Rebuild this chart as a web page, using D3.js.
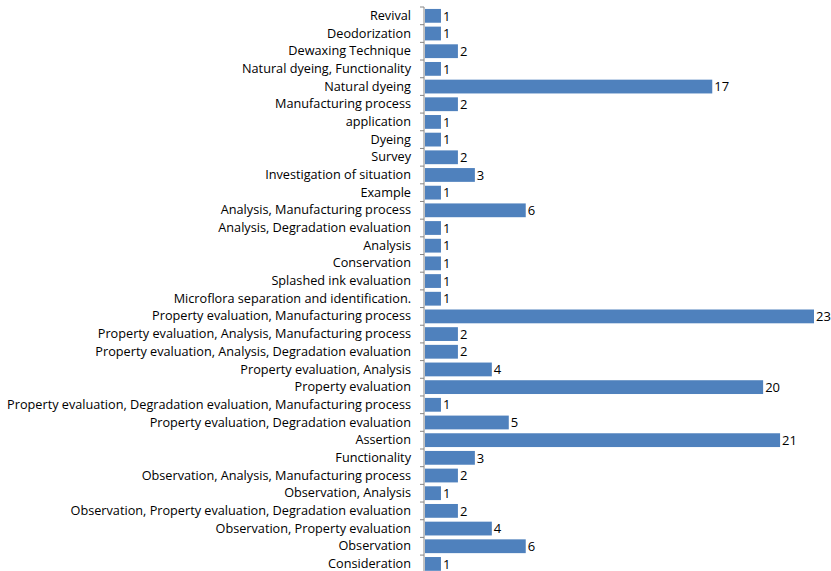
<!DOCTYPE html>
<html>
<head>
<meta charset="utf-8">
<script src="https://cdn.jsdelivr.net/npm/d3@7"></script>
<style>
  body { margin: 0; background: #fff; }
  svg { display: block; }
  text { font-family: "Open Sans", sans-serif; fill: #000; }
</style>
</head>
<body>
<svg width="831" height="571"></svg>
<script>
// categories from top to bottom
const categories = [
    "Revival", "Deodorization", "Dewaxing Technique", "Natural dyeing, Functionality",
    "Natural dyeing", "Manufacturing process", "application", "Dyeing", "Survey",
    "Investigation of situation", "Example", "Analysis, Manufacturing process",
    "Analysis, Degradation evaluation", "Analysis", "Conservation", "Splashed ink evaluation",
    "Microflora separation and identification.", "Property evaluation, Manufacturing process",
    "Property evaluation, Analysis, Manufacturing process",
    "Property evaluation, Analysis, Degradation evaluation", "Property evaluation, Analysis",
    "Property evaluation", "Property evaluation, Degradation evaluation, Manufacturing process",
    "Property evaluation, Degradation evaluation", "Assertion", "Functionality",
    "Observation, Analysis, Manufacturing process", "Observation, Analysis",
    "Observation, Property evaluation, Degradation evaluation",
    "Observation, Property evaluation", "Observation", "Consideration"
];
const counts = [1, 1, 2, 1, 17, 2, 1, 1, 2, 3, 1, 6, 1, 1, 1, 1, 1, 23, 2, 2, 4, 20, 1, 5, 21, 3, 2, 1, 2, 4, 6, 1];

const svg = d3.select("svg");
const x0 = 424;
const yTop = 7;
const step = 17.68;

const x = d3.scaleLinear().domain([0, 23]).range([x0, x0 + 390]);
const y = d3.scaleBand()
    .domain(categories)
    .range([yTop, yTop + step * categories.length])
    .paddingInner(0.22)
    .paddingOuter(0.11);

// bars
svg.append("g")
    .selectAll("rect")
    .data(categories)
    .enter().append("rect")
    .attr("x", x(0) + 1)
    .attr("y", d => y(d))
    .attr("width", (d, i) => x(counts[i]) - x(0) - 1)
    .attr("height", y.bandwidth())
    .attr("fill", "#4F81BD");

// value labels
svg.append("g")
    .selectAll("text")
    .data(categories)
    .enter().append("text")
    .attr("x", (d, i) => x(counts[i]) + 2)
    .attr("y", d => y(d) + y.bandwidth() / 2)
    .attr("dy", "0.36em")
    .style("font-size", "13px")
    .text((d, i) => counts[i]);

// category axis
const axis = d3.axisLeft(y).tickSize(0).tickPadding(13);
const g = svg.append("g").attr("transform", `translate(${x0},0)`).call(axis);
g.select(".domain").attr("stroke", "#868686").attr("d", `M0,${yTop}V${yTop + step * categories.length}`);
g.selectAll("text").style("font-size", "12.7px").style("font-family", "'Open Sans', sans-serif");

// tick marks at band boundaries
svg.append("g")
    .selectAll("line")
    .data(d3.range(categories.length + 1))
    .enter().append("line")
    .attr("x1", x0 - 4)
    .attr("x2", x0)
    .attr("y1", i => yTop + i * step)
    .attr("y2", i => yTop + i * step)
    .attr("stroke", "#868686");
</script>
</body>
</html>
